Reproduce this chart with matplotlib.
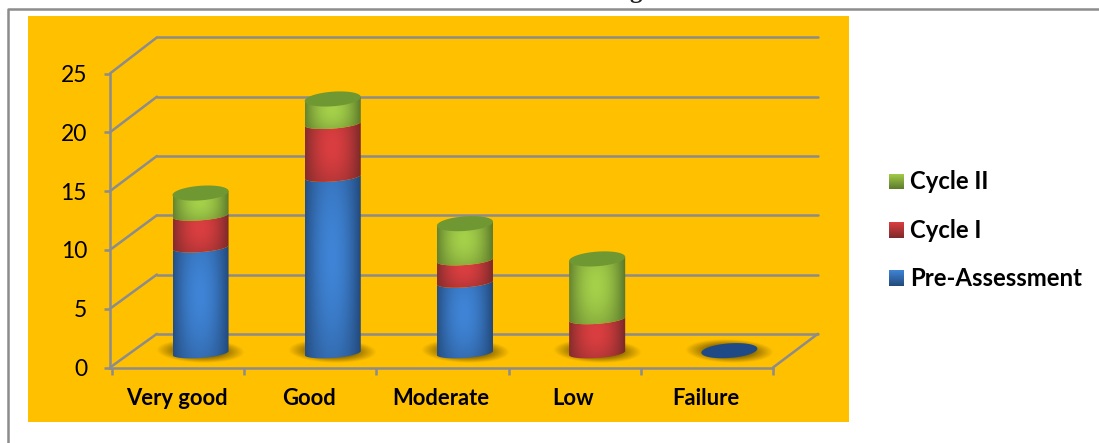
import numpy as np
import matplotlib
matplotlib.use('Agg')
import matplotlib.pyplot as plt
from matplotlib.lines import Line2D
from matplotlib.patches import PathPatch
from matplotlib.path import Path

categories = ['Very good', 'Good', 'Moderate', 'Low', 'Failure']
pre_assessment = [9, 15, 6, 0, 0]
cycle_1 = [2.7, 4.5, 1.9, 2.9, 0]
cycle_2 = [1.7, 1.9, 2.9, 4.9, 0]
y_ticks = [0, 5, 10, 15, 20, 25]

W, H = 1099, 443
LINE = '#8C8C8C'
ORANGE = '#FFC000'

# name, edge shade, middle shade, cap shade
STYLES = [
    ('Pre-Assessment', '#234A7C', '#3F84D6', '#1F4A85'),
    ('Cycle I', '#7E2A2A', '#DA3E40', '#9C3030'),
    ('Cycle II', '#5F7C2C', '#A4D04A', '#6F9833'),
]

# 3D box depth and cylinder size, in data units
DEPTH_X = 0.34
DEPTH_Y = 2.87
BACK_SCALE = 1.008
RADIUS_X = 0.212
CAP_Y = 0.62
LIP_Y = 0.42
TILT = 0.17


def rgb(color):
    return np.array(matplotlib.colors.to_rgb(color))


def lip(cx, y, start, stop, depth=LIP_Y):
    # the front centre of the lip always sits CAP_Y below the value
    t = np.linspace(start, stop, 60)
    return np.column_stack([cx + RADIUS_X * np.cos(t),
                            y - (CAP_Y - depth) - depth * np.sin(t) + TILT * np.cos(t)])


def draw_segment(ax, cx, low, high, edge, mid, last):
    """ One stacked piece of a cylinder, shaded with a clipped image """
    lower = lip(cx, low, 0, np.pi)
    if last:
        # the cap covers the top, so a straight chord under it is enough
        upper = np.array([[cx - RADIUS_X, high - TILT], [cx + RADIUS_X, high + TILT]])
    else:
        upper = lip(cx, high, np.pi, 0)
    pts = np.vstack([lower, upper])
    path = Path(np.vstack([pts, pts[0]]), closed=True)
    clip = PathPatch(path, transform=ax.transData, fc='none', ec='none')
    ax.add_patch(clip)

    u, v = np.meshgrid(np.linspace(-1, 1, 80), np.linspace(0, 1, 60))
    mix = (1 - np.abs(u + 0.05) ** 2.0) * (0.6 + 0.4 * np.sin(v * np.pi * 0.95))
    shade = rgb(edge) + mix[..., None] * (rgb(mid) - rgb(edge))
    ax.imshow(shade, origin='lower', aspect='auto', zorder=4, clip_path=clip,
              extent=[cx - RADIUS_X, cx + RADIUS_X,
                      low - CAP_Y - TILT, high + CAP_Y + TILT],
              interpolation='bilinear')


def draw_shadow(ax, cx, y):
    u, v = np.meshgrid(np.linspace(-1, 1, 120), np.linspace(-1, 1, 60))
    r = np.sqrt(u ** 2 + (v + 0.1 * u) ** 2)
    img = np.zeros(r.shape + (4,))
    img[..., :3] = [0.38, 0.29, 0.0]
    img[..., 3] = np.clip((1 - r) * 1.5, 0, 0.8)
    ax.imshow(img, origin='lower', aspect='auto', zorder=3,
              extent=[cx - 0.335, cx + 0.335, y - 1.05, y + 0.95],
              interpolation='bilinear')


def draw_stack(ax, i, series):
    cx = i + 0.5 + DEPTH_X / 2
    base = DEPTH_Y / 2
    draw_shadow(ax, cx, base)
    cap = STYLES[0][3]
    top = base
    filled = [(s[i], st) for s, st in zip(series, STYLES) if s[i] > 0]
    for n, (value, (_, edge, mid, cap_color)) in enumerate(filled):
        draw_segment(ax, cx, top, top + value, edge, mid, n == len(filled) - 1)
        top += value
        cap = cap_color
    pts = np.vstack([lip(cx, top, 0, np.pi, CAP_Y), lip(cx, top, np.pi, 2 * np.pi, CAP_Y)])
    ax.fill(pts[:, 0], pts[:, 1], color=cap, lw=0, zorder=5)


def draw_box(ax, x0):
    """ Back wall, side wall and floor lines of the 3D box """
    style = dict(color=LINE, lw=1.8, zorder=2, solid_capstyle='round')
    for tick in y_ticks:
        back = tick * BACK_SCALE + DEPTH_Y
        ax.plot([DEPTH_X, 5 + DEPTH_X], [back, back], **style)
        ax.plot([x0, DEPTH_X], [tick, back], **style)
    ax.plot([5, 5 + DEPTH_X], [0, DEPTH_Y], **style)


def draw_legend(fig):
    rows = [(STYLES[2], 181.5), (STYLES[1], 230), (STYLES[0], 278)]
    for (name, edge, mid, _), y in rows:
        sw = fig.add_axes([889 / W, 1 - (y + 8) / H, 15 / W, 16 / H])
        ramp = rgb(edge) + np.linspace(0, 1, 30)[:, None, None] * (rgb(mid) - rgb(edge))
        sw.imshow(ramp, origin='lower', aspect='auto')
        sw.axis('off')
        fig.text(910 / W, 1 - y / H, name, fontsize=17.2, fontweight='bold',
                 family='Lato', va='center', ha='left', color='black')


def main():
    plt.rcParams['font.family'] = 'Lato'
    fig = plt.figure(figsize=(W / 100, H / 100), dpi=100, facecolor='white')

    # outer chart border, open at the bottom and right
    fig.add_artist(Line2D([7.5 / W, 7.5 / W, 1], [0, 1 - 9 / H, 1 - 9 / H],
                          color=LINE, lw=1.8))
    # descender of the heading that runs off the top of the page
    fig.text(636 / W, 1 + 2 / H, 'g', family='Liberation Serif', fontweight='bold',
             fontsize=18, ha='center', va='baseline', color='#222222')

    ax = fig.add_axes([28 / W, 1 - 422 / H, 821 / W, 406 / H])
    ax.set_facecolor(ORANGE)
    ax.set_autoscale_on(False)
    ax.set_xlim(-0.635, 5.575)
    ax.set_ylim(-4.63, 29.89)

    x0 = -0.015
    for side in ('top', 'right'):
        ax.spines[side].set_visible(False)
    ax.spines['left'].set_position(('data', x0))
    ax.spines['left'].set_bounds(0, 25)
    ax.spines['bottom'].set_position(('data', 0))
    ax.spines['bottom'].set_bounds(x0, 5)
    for side in ('left', 'bottom'):
        ax.spines[side].set_color(LINE)
        ax.spines[side].set_linewidth(1.8)

    ax.set_yticks(y_ticks)
    ax.tick_params(axis='y', length=4.5, width=1.8, color=LINE, pad=12, labelsize=16.5)
    ax.set_xticks(range(6))
    ax.set_xticklabels([])
    ax.tick_params(axis='x', which='major', length=5, width=1.8, color=LINE)
    ax.set_xticks([i + 0.49 for i in range(5)], minor=True)
    ax.set_xticklabels(categories, minor=True, fontweight='bold', fontsize=15.8)
    ax.tick_params(axis='x', which='minor', length=0, pad=15)

    draw_box(ax, x0)
    series = [pre_assessment, cycle_1, cycle_2]
    for i in range(len(categories)):
        draw_stack(ax, i, series)

    draw_legend(fig)
    fig.savefig('out.png', dpi=100)


if __name__ == '__main__':
    main()
